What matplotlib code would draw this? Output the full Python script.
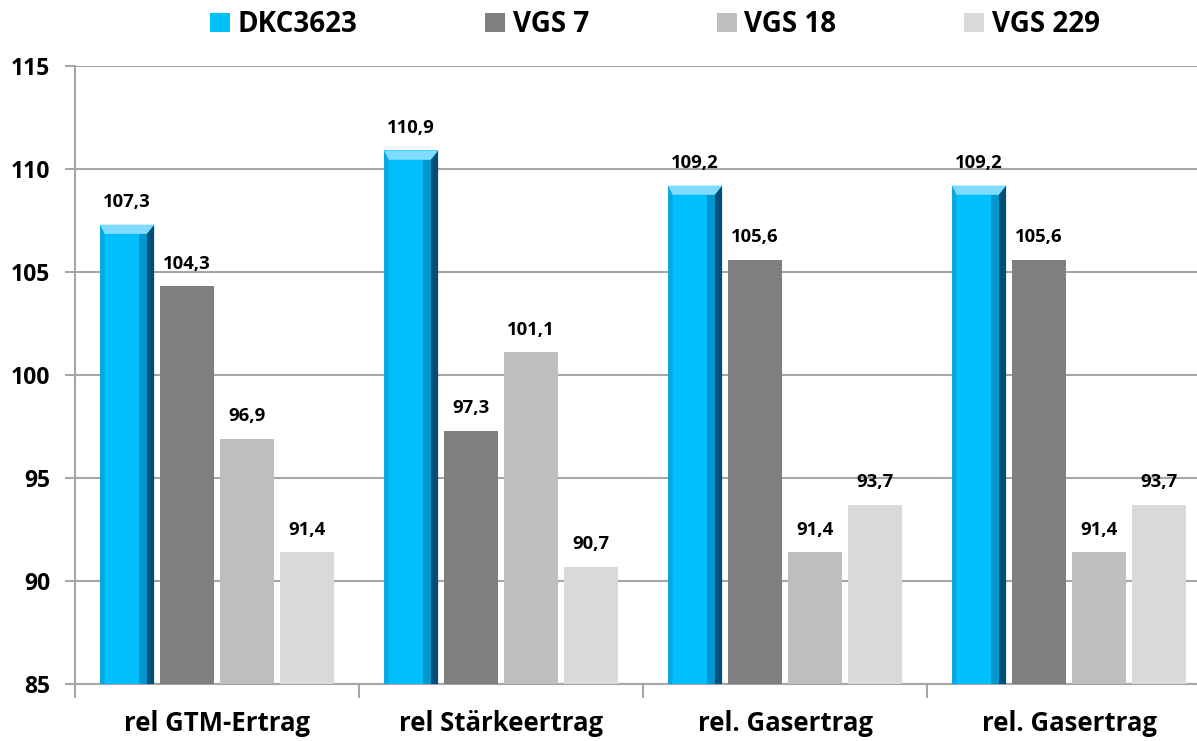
import matplotlib.pyplot as plt
from matplotlib.patches import Polygon
import numpy as np

plt.rcParams['font.family'] = ['Open Sans', 'DejaVu Sans']
plt.rcParams['font.weight'] = 'bold'

categories = ["rel GTM-Ertrag", "rel Stärkeertrag", "rel. Gasertrag", "rel. Gasertrag"]
series = ["DKC3623", "VGS 7", "VGS 18", "VGS 229"]
dkc3623 = [107.3, 110.9, 109.2, 109.2]
vgs7 = [104.3, 97.3, 105.6, 105.6]
vgs18 = [96.9, 101.1, 91.4, 91.4]
vgs229 = [91.4, 90.7, 93.7, 93.7]
colors = ["#00bfff", "#7f7f7f", "#bfbfbf", "#d9d9d9"]

values = [dkc3623, vgs7, vgs18, vgs229]
base = 85

fig = plt.figure(figsize=(11.97, 7.41), dpi=100)
ax = fig.add_axes([0.0627, 0.0769, 0.949, 0.834])

x = np.arange(len(categories))
step = 0.211
width = 0.19
grid_c = "#a6a6a6"

for i, (name, vals, col) in enumerate(zip(series, values, colors)):
    pos = x + (i - 1.5) * step
    heights = [v - base for v in vals]
    ax.bar(pos, heights, width, bottom=base, color=col, zorder=3, label=name)
    for p, v in zip(pos, vals):
        ax.text(p, v + 0.65, f"{v:.1f}".replace(".", ","), ha="center", va="bottom",
                fontsize=13.3, fontweight="bold", zorder=5)
    if i == 0:
        # bevel look for the blue series
        bx = 0.026
        by = 0.45
        for p, v in zip(pos, vals):
            l, r = p - width / 2, p + width / 2
            ax.add_patch(Polygon([[r - bx, base], [r, base], [r, v], [r - bx, v - by]],
                                 closed=True, color="#004f78", zorder=4, lw=0))
            ax.add_patch(Polygon([[r - 2 * bx, base], [r - bx, base], [r - bx, v - by], [r - 2 * bx, v - by]],
                                 closed=True, color="#0096cf", zorder=4, lw=0))
            ax.add_patch(Polygon([[l, base], [l + bx * 0.6, base], [l + bx * 0.6, v - by], [l, v]],
                                 closed=True, color="#0aa6e0", zorder=4, lw=0))
            ax.add_patch(Polygon([[l, v], [r, v], [r - bx, v - by], [l + bx * 0.6, v - by]],
                                 closed=True, color="#7fdcff", zorder=4, lw=0))

ax.set_xlim(-0.5, 3.5)
ax.set_ylim(85, 115)
ax.set_yticks(np.arange(85, 116, 5))
ax.tick_params(axis="y", labelsize=16.5, length=7, color=grid_c, width=1.5, pad=11)
for lab in ax.get_yticklabels():
    lab.set_fontweight("bold")
ax.yaxis.grid(True, color=grid_c, linewidth=1.5, zorder=0)

ax.set_xticks(np.arange(-0.5, 3.6, 1.0))
ax.set_xticklabels([])
ax.tick_params(axis="x", which="major", length=10, color=grid_c, width=1.5)
ax.set_xticks(x, minor=True)
ax.set_xticklabels(categories, minor=True, fontsize=18.5, fontweight="bold")
ax.tick_params(axis="x", which="minor", length=0, pad=19)

for s in ["top", "right"]:
    ax.spines[s].set_visible(False)
for s in ["left", "bottom"]:
    ax.spines[s].set_color(grid_c)
    ax.spines[s].set_linewidth(1.5)

leg = fig.legend(loc="upper center", bbox_to_anchor=(0.547, 1.02), ncol=4, frameon=False,
                 handlelength=0.72, handleheight=0.72, columnspacing=4.6,
                 handletextpad=0.27, prop={"weight": "bold", "size": 20})

fig.savefig("out.png", dpi=100)
